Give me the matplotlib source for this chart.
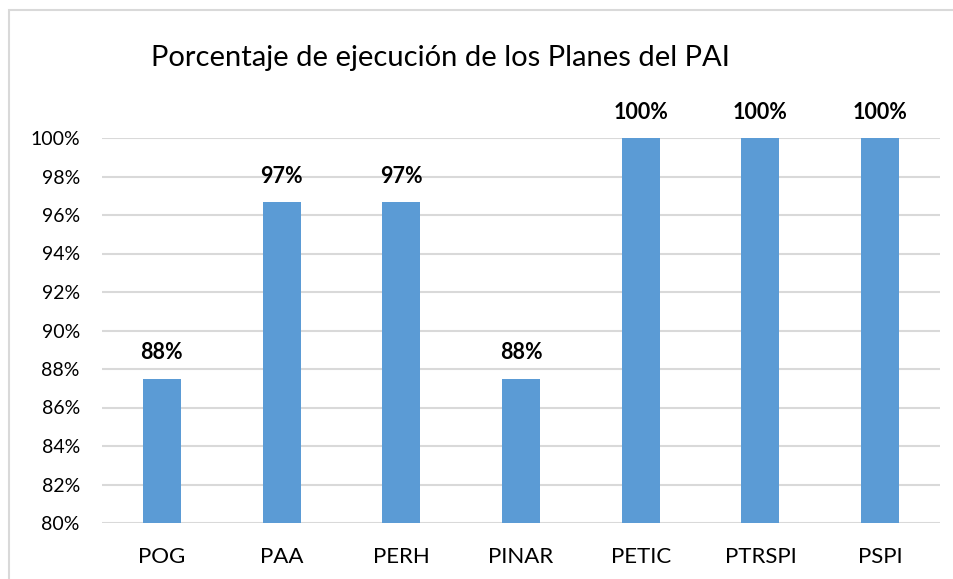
import matplotlib.pyplot as plt
from matplotlib.patches import Rectangle

plt.rcParams['font.family'] = ['Lato', 'DejaVu Sans']

planes = ['POG', 'PAA', 'PERH', 'PINAR', 'PETIC', 'PTRSPI', 'PSPI']
ejecucion = [87.5, 96.67, 96.67, 87.5, 100, 100, 100]
yticks = list(range(80, 101, 2))

fig = plt.figure(figsize=(9.54, 5.79), dpi=100)
ax = fig.add_axes([102 / 954, 1 - 523 / 579, 838 / 954, 385 / 579])

x = range(len(planes))
bars = ax.bar(x, ejecucion, width=0.317, color='#5B9BD5', zorder=3)
ax.set_ylim(80, 100)
ax.set_xlim(-0.5, len(planes) - 0.5)
ax.set_yticks(yticks)
ax.set_yticklabels([f'{v}%' for v in yticks])
ax.set_xticks(list(x))
ax.set_xticklabels(planes)
ax.tick_params(axis='both', length=0, colors='#000000')
ax.tick_params(axis='y', pad=16, labelsize=14)
ax.tick_params(axis='x', pad=17, labelsize=16)
ax.grid(axis='y', color='#D9D9D9', linewidth=1.5, zorder=0)
for s in ax.spines.values():
    s.set_visible(False)

# etiquetas de datos
for xi, v in zip(x, ejecucion):
    ax.annotate(f'{round(v)}%', (xi, v), xytext=(0, 11), textcoords='offset points',
                ha='center', va='bottom', fontsize=15.5, fontweight='bold',
                annotation_clip=False)

fig.text(440 / 954, 1 - 58 / 579, 'Porcentaje de ejecución de los Planes del PAI',
         ha='center', va='center', fontsize=21)

# borde del grafico
fig.patches.append(Rectangle((9 / 954, -0.1), 1.2, 1 - 10 / 579 + 0.1,
                             transform=fig.transFigure, fill=False,
                             edgecolor='#D9D9D9', linewidth=1.5))

fig.savefig('out.png', dpi=100)
